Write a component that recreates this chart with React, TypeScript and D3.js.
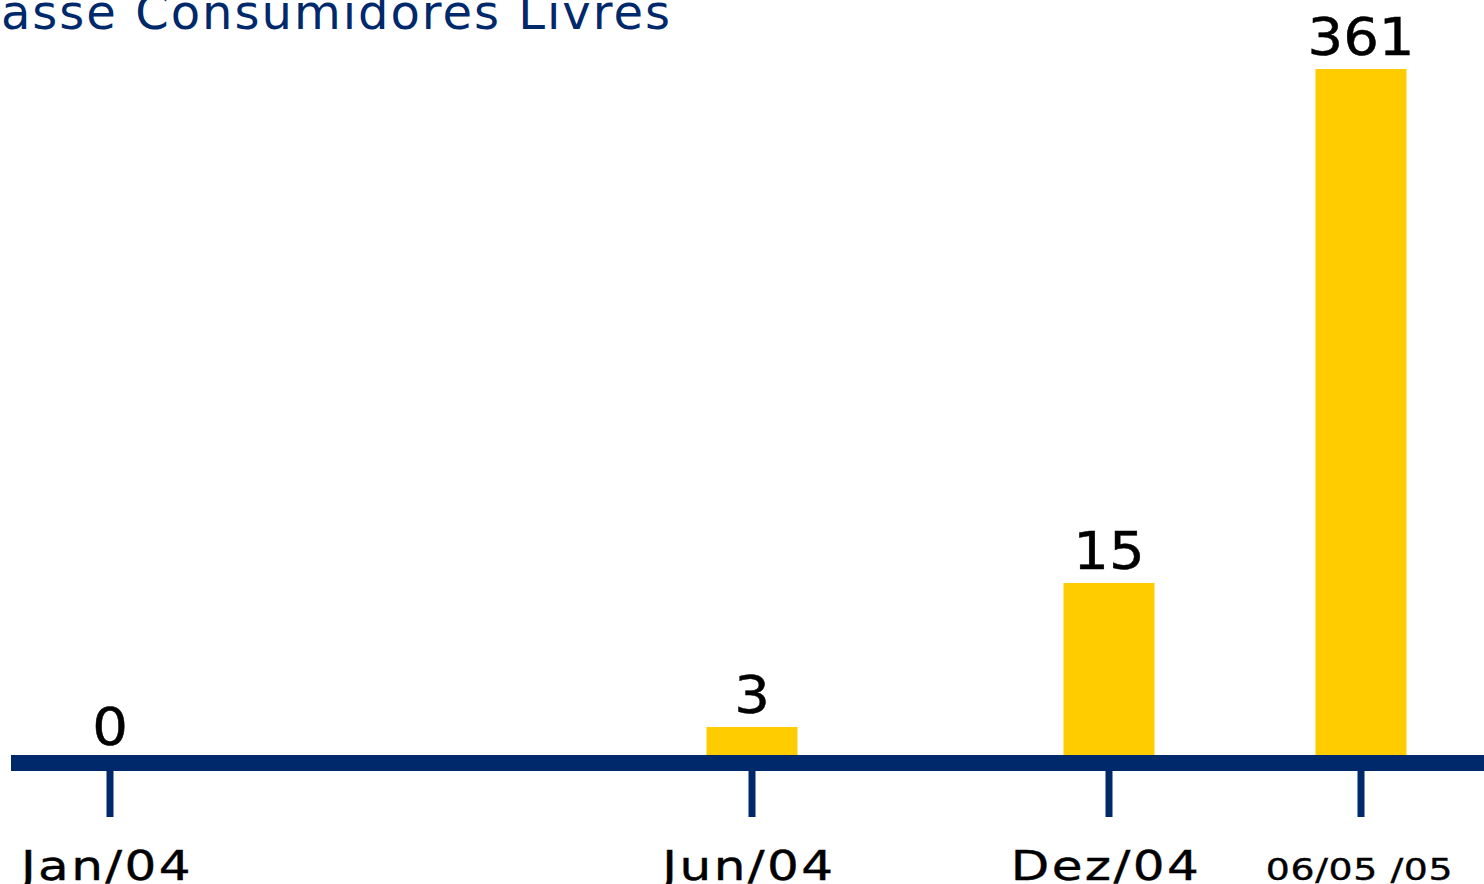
import React from 'react';
import * as d3 from 'd3';

const categories = ['Jan/04', 'Jun/04', 'Dez/04', '06/05 /05'];
const values = [0, 3, 15, 361];
const titleText = 'Classe Consumidores Livres';

const W = 1484;
const H = 884;
const baseY = 755;
const NAVY = '#00296B';
const GOLD = '#FFCC00';
const FONT = '"DejaVu Sans", Verdana, sans-serif';

// the source chart is not drawn to a linear scale, so use a piecewise one
const y = d3.scaleLinear().domain(values).range([baseY, 727, 583, 69]);
const x = d3.scaleOrdinal<string, number>().domain(categories).range([110, 752, 1109, 1361]);
const barW = 91;

const App: React.FC = () => {
  return (
    <svg width={W} height={H} style={{ position: 'absolute', left: 0, top: 0, background: '#fff' }}>
      <text
        x={672}
        y={29}
        textAnchor="end"
        fill={NAVY}
        fontFamily={FONT}
        fontSize={48}
        letterSpacing={2}
      >
        {titleText}
      </text>

      {categories.map((c, i) => {
        const v = values[i];
        const cx = x(c);
        const last = i === categories.length - 1;
        return (
          <g key={c}>
            {v > 0 && (
              <rect x={cx - barW / 2} y={y(v)} width={barW} height={baseY - y(v)} fill={GOLD} />
            )}
            <text
              transform={`translate(${cx},${y(v) - (v > 0 ? 14 : 10)}) scale(1.1,1)`}
              textAnchor="middle"
              fontFamily={FONT}
              fontSize={51}
              fill="#000"
              stroke="#000"
              strokeWidth={0.5}
            >
              {d3.format('d')(v)}
            </text>
            <rect x={cx - 3.5} y={770} width={7} height={47} fill={NAVY} />
            <text
              transform={`translate(${cx - (last ? 1.5 : 3)},880) scale(1.22,1)`}
              textAnchor="middle"
              fontFamily={FONT}
              fontSize={last ? 31 : 41}
              letterSpacing={last ? 0.5 : 2}
              fill="#000"
              stroke="#000"
              strokeWidth={0.4}
            >
              {c}
            </text>
          </g>
        );
      })}

      <rect x={11} y={baseY} width={W - 11} height={16} fill={NAVY} />
    </svg>
  );
};

export default App;
